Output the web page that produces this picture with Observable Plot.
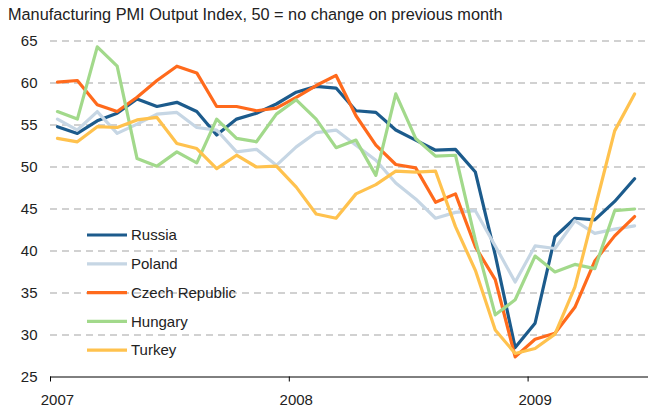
<!DOCTYPE html>
<html>
<head>
<meta charset="utf-8">
<script src="https://cdn.jsdelivr.net/npm/d3@7"></script>
<script src="https://cdn.jsdelivr.net/npm/@observablehq/plot@0.6"></script>
<style>
  html, body { margin: 0; padding: 0; background: #fff; }
  #title { height: 30px; box-sizing: border-box; padding: 5px 0 0 8px; font: 16.3px/19px "Liberation Sans", Arial, sans-serif; color: #222; white-space: nowrap; }
  #chart svg { display: block; }
</style>
</head>
<body>
<div id="title">Manufacturing PMI Output Index, 50 = no change on previous month</div>
<div id="chart"></div>
<script>
const months = [
  "2007-01","2007-02","2007-03","2007-04","2007-05","2007-06","2007-07","2007-08","2007-09","2007-10","2007-11","2007-12",
  "2008-01","2008-02","2008-03","2008-04","2008-05","2008-06","2008-07","2008-08","2008-09","2008-10","2008-11","2008-12",
  "2009-01","2009-02","2009-03","2009-04","2009-05","2009-06"
];
const russia  = [54.8,54.0,55.5,56.4,58.1,57.2,57.7,56.6,53.8,55.7,56.4,57.5,58.9,59.6,59.4,56.7,56.5,54.4,53.2,52.0,52.1,49.4,39.5,28.5,31.4,41.7,43.9,43.7,45.9,48.6];
const poland  = [55.7,54.4,56.6,54.0,55.1,56.3,56.5,54.7,54.4,51.8,52.1,50.2,52.4,54.1,54.4,52.6,50.8,48.1,46.2,43.9,44.6,44.8,40.6,36.3,40.6,40.3,43.6,42.1,42.6,43.0];
const czech   = [60.1,60.3,57.4,56.6,58.3,60.3,62.0,61.2,57.2,57.2,56.7,57.0,58.3,59.7,60.9,56.1,52.6,50.3,49.9,45.8,46.8,40.5,36.6,27.4,29.5,30.2,33.3,38.8,41.8,44.1];
const hungary = [56.6,55.7,64.3,62.0,51.0,50.1,51.8,50.5,55.7,53.4,53.0,56.3,58.0,55.7,52.3,53.2,49.0,58.7,53.4,51.3,51.4,41.3,32.4,34.2,39.4,37.5,38.4,37.9,44.8,45.0];
const turkey  = [53.4,53.0,54.8,54.7,55.6,55.9,52.8,52.2,49.8,51.4,50.0,50.1,47.6,44.4,43.9,46.8,47.9,49.5,49.4,49.5,42.9,37.7,30.6,27.8,28.4,30.1,35.7,45.0,54.3,58.7];

const seriesNames  = ["Russia","Poland","Czech Republic","Hungary","Turkey"];
const seriesValues = [russia, poland, czech, hungary, turkey];
const seriesColors = ["#1c5b8c","#c6d6e4","#ff6a1c","#a2d98b","#ffc24e"];
const yTicks = [25,30,35,40,45,50,55,60,65];
const yearLabels = ["2007","2008","2009"];

const rows = [];
seriesNames.forEach((name, k) => {
  seriesValues[k].forEach((v, i) => rows.push({series: name, i, month: months[i], value: v}));
});

// year label positions (January of each year) and year boundary tick marks
const yearIdx = yearLabels.map(y => months.indexOf(y + "-01"));
const yearBoundaries = yearIdx.map(i => i - 0.35);

const plot = Plot.plot({
  width: 648,
  height: 380,
  marginTop: 10.5,
  marginBottom: 33.5,
  marginLeft: 50,
  marginRight: 0,
  style: {fontFamily: "'Liberation Sans', Arial, sans-serif", fontSize: "15px", color: "#222", background: "#fff"},
  x: {type: "linear", domain: [-0.35, 29.7], axis: null},
  y: {domain: [25, 65], axis: null},
  color: {domain: seriesNames, range: seriesColors},
  marks: [
    Plot.ruleY(yTicks.filter(v => v > 25), {stroke: "#a3a3a3", strokeWidth: 1, strokeDasharray: "7,5"}),
    Plot.axisY({ticks: yTicks, tickSize: 0, tickPadding: 13, tickFormat: d => String(d), fill: "#222", label: null}),
    Plot.ruleY([25], {stroke: "#000", strokeWidth: 1}),
    Plot.axisX({ticks: yearBoundaries, tickSize: 5, tickFormat: () => "", stroke: "#000", label: null}),
    Plot.axisX({ticks: yearIdx, tickSize: 0, tickPadding: 17, tickFormat: i => yearLabels[yearIdx.indexOf(i)], fill: "#222", label: null}),
    Plot.line(rows, {x: "i", y: "value", z: "series", stroke: "series", strokeWidth: 3.2, strokeLinejoin: "round"})
  ]
});

document.getElementById("chart").appendChild(plot);

// legend inside the plot area
const svg = d3.select(plot);
const leg = svg.append("g")
  .attr("font-family", "'Liberation Sans', Arial, sans-serif")
  .attr("font-size", 15)
  .attr("fill", "#222")
  .attr("text-anchor", "start");
seriesNames.forEach((name, k) => {
  const y = 205 + k * 28.8;
  leg.append("line").attr("x1", 87).attr("x2", 127).attr("y1", y).attr("y2", y)
    .attr("stroke", seriesColors[k]).attr("stroke-width", 3.2);
  leg.append("text").attr("x", 131).attr("y", y).attr("dy", "0.35em").text(name);
});
</script>
</body>
</html>
